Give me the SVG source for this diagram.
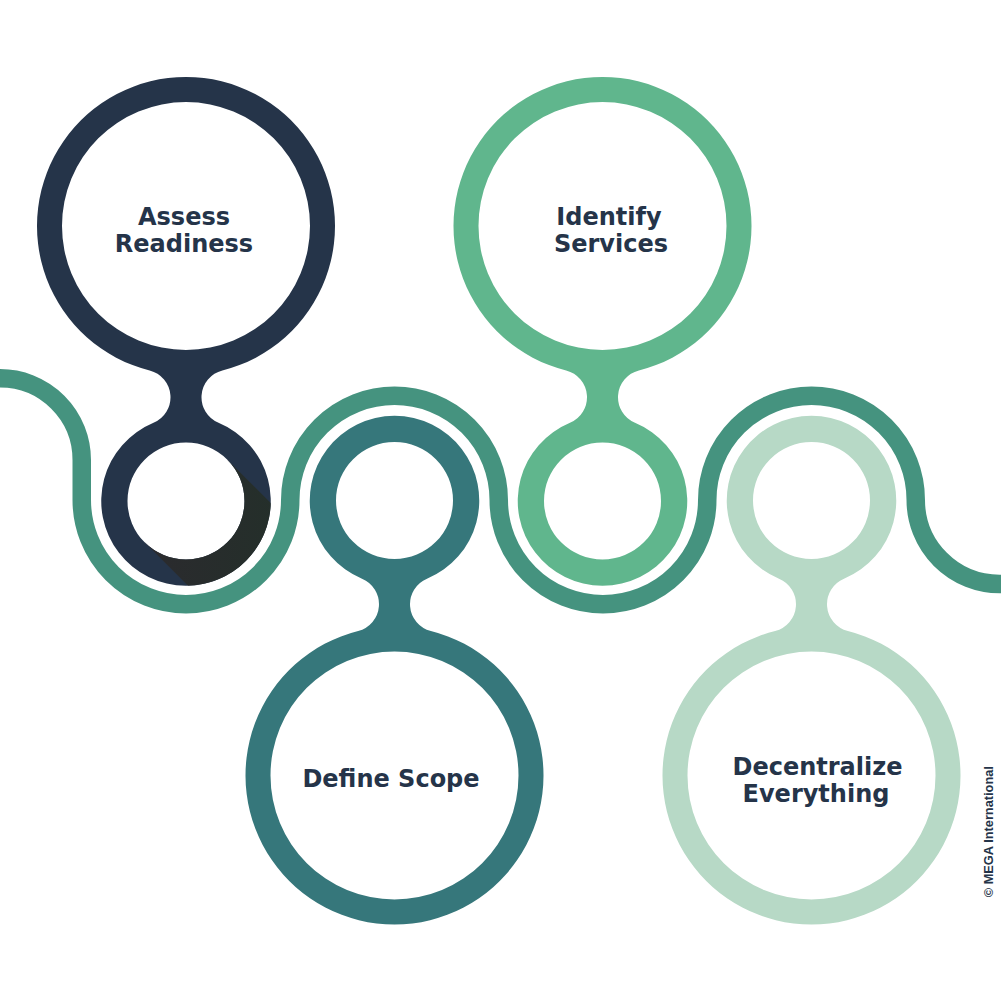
<svg xmlns="http://www.w3.org/2000/svg" width="1001" height="1001" viewBox="0 0 1001 1001">
  <style>
    .lbl { font-family: "DejaVu Sans", "Liberation Sans", sans-serif; font-weight: 700; font-size: 24px; fill: #253449; text-anchor: middle; }
    .copy { font-family: "Liberation Sans", Arial, sans-serif; font-weight: 700; font-size: 12.8px; fill: #253449; text-anchor: middle; }
    .wave { fill: none; stroke: #45937f; stroke-width: 18.5; }
  </style>
  <defs>
    <path id="keyhole" fill-rule="evenodd" d="M 36.36 144.50 A 149 149 0 1 0 -36.36 144.50 A 27.59 27.59 0 0 1 -32.51 196.73 A 84.75 84.75 0 1 0 32.51 196.73 A 27.59 27.59 0 0 1 36.36 144.50 Z M -124 0 A 124 124 0 1 0 124 0 A 124 124 0 1 0 -124 0 Z M -58.5 275 A 58.5 58.5 0 1 0 58.5 275 A 58.5 58.5 0 1 0 -58.5 275 Z"/>
    <clipPath id="ring1">
      <path clip-rule="evenodd" d="M 101.25 501 A 84.75 84.75 0 1 0 270.75 501 A 84.75 84.75 0 1 0 101.25 501 Z M 127.5 501 A 58.5 58.5 0 1 0 244.5 501 A 58.5 58.5 0 1 0 127.5 501 Z"/>
    </clipPath>
    <linearGradient id="shadow" x1="140" y1="0" x2="280" y2="0" gradientUnits="userSpaceOnUse">
      <stop offset="0" stop-color="#2b2a2e"/>
      <stop offset="1" stop-color="#242f2a"/>
    </linearGradient>
  </defs>

  <g id="connectors">
    <path class="wave" d="M -3 378.25 L 0 378.25 A 81.75 81.75 0 0 1 81.75 460 L 81.75 500 A 104.25 104.25 0 0 0 290.25 500 A 104.25 104.25 0 0 1 498.75 500 A 104.25 104.25 0 0 0 707.25 500 A 104.25 104.25 0 0 1 915.75 500 A 84 84 0 0 0 999.75 584 L 1004 584"/>
  </g>

  <g id="node-assess-readiness">
    <use href="#keyhole" transform="translate(186,226)" fill="#253449"/>
    <polygon points="227.37,459.63 377.37,609.63 294.63,692.37 144.63,542.37" fill="url(#shadow)" clip-path="url(#ring1)"/>
    <text class="lbl" x="184" y="225">Assess</text>
    <text class="lbl" x="184" y="252">Readiness</text>
  </g>

  <g id="node-define-scope">
    <use href="#keyhole" transform="translate(394.5,775.5) scale(1,-1)" fill="#36777b"/>
    <text class="lbl" x="391" y="787">Define Scope</text>
  </g>

  <g id="node-identify-services">
    <use href="#keyhole" transform="translate(602.5,226)" fill="#60b68d"/>
    <text class="lbl" x="609" y="225">Identify</text>
    <text class="lbl" x="611" y="252">Services</text>
  </g>

  <g id="node-decentralize-everything">
    <use href="#keyhole" transform="translate(811.5,775.5) scale(1,-1)" fill="#b7d9c6"/>
    <text class="lbl" x="817.5" y="775">Decentralize</text>
    <text class="lbl" x="816" y="802">Everything</text>
  </g>

  <text class="copy" transform="translate(992.5,831.7) rotate(-90)">© MEGA International</text>
</svg>
